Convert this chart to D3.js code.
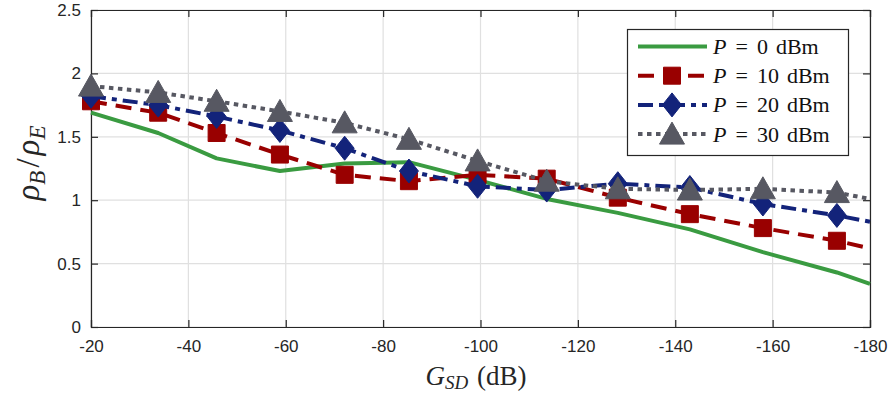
<!DOCTYPE html>
<html>
<head>
<meta charset="utf-8">
<script src="https://cdn.jsdelivr.net/npm/d3@7"></script>
<style>
  body { margin: 0; background: #fff; }
  svg { display: block; }
</style>
</head>
<body>
<div id="chart"></div>
<script>
// G_SD sample positions (dB); last one is the curve end without a marker
var gsd = [-20, -33.8, -45.8, -58.8, -72.1, -85.3, -99.4, -113.6, -128.2, -143.0, -158.0, -173.2, -180];
var p0  = [1.69, 1.53, 1.33, 1.23, 1.29, 1.30, 1.16, 1.01, 0.90, 0.77, 0.59, 0.43, 0.34];
var p10 = [1.78, 1.69, 1.53, 1.36, 1.20, 1.15, 1.20, 1.17, 1.02, 0.89, 0.78, 0.68, 0.62];
var p20 = [1.82, 1.75, 1.66, 1.55, 1.41, 1.23, 1.11, 1.08, 1.13, 1.10, 0.97, 0.88, 0.83];
var p30 = [1.90, 1.85, 1.78, 1.70, 1.61, 1.48, 1.31, 1.15, 1.09, 1.08, 1.09, 1.06, 1.01];
var seriesNames = ["0", "10", "20", "30"];
var xTicks = [-20, -40, -60, -80, -100, -120, -140, -160, -180];
var yTicks = [0, 0.5, 1, 1.5, 2, 2.5];

(function() {
	var width = 895, height = 403;
	var mLeft = 91, mRight = 870, mTop = 10, mBottom = 327;
	var axisColor = "#262626";
	var serif = "'Liberation Serif', 'DejaVu Serif', serif";

	var svg = d3.select("#chart").append("svg")
		.attr("width", width)
		.attr("height", height);

	var x = d3.scaleLinear().domain([-20, -180]).range([mLeft, mRight]);
	var y = d3.scaleLinear().domain([0, 2.5]).range([mBottom, mTop]);

	// grid
	var grid = svg.append("g").attr("class", "grid");
	grid.selectAll(".vg").data(xTicks).enter().append("line")
		.attr("x1", function(d) { return x(d); })
		.attr("x2", function(d) { return x(d); })
		.attr("y1", mTop).attr("y2", mBottom)
		.attr("stroke", "#e0e0e0").attr("stroke-width", 1.2);
	grid.selectAll(".hg").data(yTicks).enter().append("line")
		.attr("y1", function(d) { return y(d); })
		.attr("y2", function(d) { return y(d); })
		.attr("x1", mLeft).attr("x2", mRight)
		.attr("stroke", "#e0e0e0").attr("stroke-width", 1.2);

	// axes (ticks inward, labels outside)
	var plain = function(d) { return String(d); };
	var xAxis = d3.axisBottom(x).tickValues(xTicks).tickSize(-7).tickPadding(13).tickFormat(plain);
	var yAxis = d3.axisLeft(y).tickValues(yTicks).tickSize(-7).tickPadding(10).tickFormat(plain);
	var gx = svg.append("g").attr("transform", "translate(0," + mBottom + ")").call(xAxis);
	var gy = svg.append("g").attr("transform", "translate(" + mLeft + ",0)").call(yAxis);
	var gyr = svg.append("g").attr("transform", "translate(" + mRight + ",0)")
		.call(d3.axisRight(y).tickValues(yTicks).tickSize(-7).tickFormat(""));
	var gxt = svg.append("g").attr("transform", "translate(0," + mTop + ")")
		.call(d3.axisTop(x).tickValues(xTicks).tickSize(-7).tickFormat(""));
	[gx, gy, gyr, gxt].forEach(function(g) {
		g.selectAll("path").attr("stroke", axisColor).attr("stroke-width", 1.2);
		g.selectAll("line").attr("stroke", axisColor).attr("stroke-width", 1.2);
		g.selectAll("text")
			.attr("fill", axisColor)
			.style("font-family", "'Liberation Sans', Arial, sans-serif")
			.style("font-size", "17px");
	});

	// series styles
	var styles = [
		{ data: p0,  color: "#3a9b41", dash: null,       marker: null },
		{ data: p10, color: "#990000", dash: "16,9",     marker: "square" },
		{ data: p20, color: "#13237a", dash: "15,6,5,6", marker: "diamond" },
		{ data: p30, color: "#575862", dash: "4.5,4.5",  marker: "triangle" }
	];

	function markerPath(type) {
		if (type == "square") return "M-8.5,-8.5H8.5V8.5H-8.5Z";
		if (type == "diamond") return "M0,-12L9.5,0L0,12L-9.5,0Z";
		if (type == "triangle") return "M0,-12L12.5,10L-12.5,10Z";
		return "";
	}

	var line = d3.line()
		.x(function(d) { return x(d[0]); })
		.y(function(d) { return y(d[1]); });

	var plot = svg.append("g").attr("class", "plot");
	styles.forEach(function(s) {
		var pts = gsd.map(function(g, i) { return [g, s.data[i]]; });
		plot.append("path")
			.datum(pts)
			.attr("d", line)
			.attr("fill", "none")
			.attr("stroke", s.color)
			.attr("stroke-width", 4)
			.attr("stroke-linejoin", "round")
			.attr("stroke-dasharray", s.dash);
		if (s.marker) {
			plot.append("g").selectAll("path").data(pts.slice(0, pts.length - 1)).enter()
				.append("path")
				.attr("d", markerPath(s.marker))
				.attr("transform", function(d) { return "translate(" + x(d[0]) + "," + y(d[1]) + ")"; })
				.attr("fill", s.color)
				.attr("stroke", s.color)
				.attr("stroke-width", 1);
		}
	});

	// legend
	var legend = svg.append("g").attr("class", "legend");
	legend.append("rect")
		.attr("x", 627.5).attr("y", 29.5)
		.attr("width", 221).attr("height", 126)
		.attr("fill", "#fff")
		.attr("stroke", axisColor)
		.attr("stroke-width", 1.2);
	styles.forEach(function(s, i) {
		var ly = 46.5 + i * 29.2;
		legend.append("line")
			.attr("x1", 638).attr("x2", 707)
			.attr("y1", ly).attr("y2", ly)
			.attr("stroke", s.color)
			.attr("stroke-width", 4)
			.attr("stroke-dasharray", s.dash);
		if (s.marker) {
			legend.append("path")
				.attr("d", markerPath(s.marker))
				.attr("transform", "translate(672," + ly + ")")
				.attr("fill", s.color)
				.attr("stroke", s.color);
		}
		var t = legend.append("text")
			.attr("x", 713).attr("y", ly + 7.5)
			.attr("fill", "#111")
			.style("font-family", serif)
			.style("font-size", "22px");
		t.append("tspan").style("font-style", "italic").text("P");
		t.append("tspan").attr("dx", 9).text("=");
		t.append("tspan").attr("dx", 9).text(seriesNames[i]);
		t.append("tspan").attr("dx", 8).text("dBm");
	});

	// axis labels
	var xl = svg.append("text")
		.attr("x", 476).attr("y", 385)
		.attr("text-anchor", "middle")
		.attr("fill", axisColor)
		.style("font-family", serif)
		.style("font-size", "27px");
	xl.append("tspan").style("font-style", "italic").text("G");
	xl.append("tspan").style("font-style", "italic").style("font-size", "19px").attr("dy", 4).text("SD");
	xl.append("tspan").attr("dy", -4).attr("dx", 9).text("(dB)");

	var yl = svg.append("text")
		.attr("transform", "translate(39,163) rotate(-90)")
		.attr("text-anchor", "middle")
		.attr("fill", axisColor)
		.style("font-family", serif)
		.style("font-size", "33px");
	yl.append("tspan").style("font-style", "italic").text("ρ");
	yl.append("tspan").style("font-style", "italic").style("font-size", "23px").attr("dy", 6).text("B");
	yl.append("tspan").attr("dy", -6).attr("dx", 3).text("/");
	yl.append("tspan").attr("dx", 3).style("font-style", "italic").text("ρ");
	yl.append("tspan").style("font-style", "italic").style("font-size", "23px").attr("dy", 6).text("E");
})();
</script>
</body>
</html>
